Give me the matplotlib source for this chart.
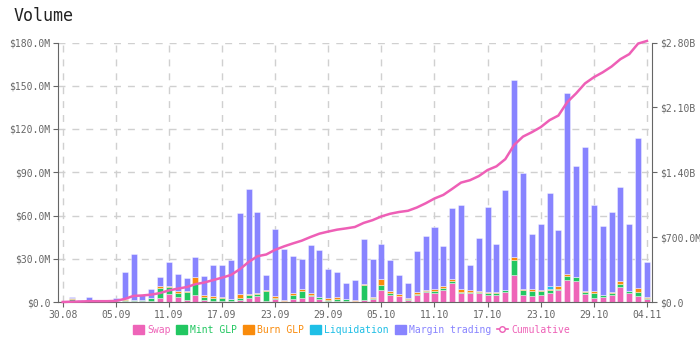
import numpy as np
import pandas as pd
import matplotlib
matplotlib.use("Agg")
import matplotlib.pyplot as plt
import matplotlib.transforms as mtransforms
from matplotlib.patches import Patch
from matplotlib.lines import Line2D

plt.rcParams['font.family'] = ['DejaVu Sans Mono']

# daily volumes in $M (30.08 .. 04.11)
dates = pd.date_range("2021-08-30", "2021-11-04", freq="D")
swap = [0, 0.3, 0.1, 0.1, 0, 0, 0.3, 0.5, 0.5, 0.5,
        1.0, 3.0, 5.8, 3.5, 1.5, 5.0, 1.5, 1.0, 1.0, 1.0,
        1.5, 3.0, 4.0, 0.7, 2.0, 0.5, 2.0, 2.8, 4.0, 2.3,
        1.0, 1.0, 0.8, 0.5, 1.6, 2.3, 8.5, 5.0, 4.0, 1.6,
        5.0, 6.7, 6.4, 8.5, 13.0, 6.4, 6.4, 6.0, 5.0, 5.0,
        7.0, 18.4, 4.6, 4.0, 4.6, 6.4, 8.0, 15.6, 14.5, 5.8,
        2.8, 3.5, 4.6, 10.4, 6.4, 4.0, 2.0]
mint_glp = [0, 1.8, 0.2, 0.2, 0, 0, 0.5, 1.0, 0.8, 1.0,
            1.5, 7.0, 4.6, 3.0, 5.7, 7.6, 2.3, 2.0, 1.5, 1.0,
            1.5, 1.6, 1.6, 7.0, 1.0, 0.5, 3.0, 5.0, 1.0, 1.0,
            0.5, 1.2, 1.0, 0.5, 10.4, 0.8, 3.0, 1.2, 0.3, 0.8,
            0.8, 0.8, 1.5, 1.5, 1.5, 0.5, 0.5, 1.0, 1.0, 1.0,
            1.0, 11.0, 4.0, 3.5, 3.0, 2.0, 1.0, 2.3, 2.8, 1.0,
            3.7, 1.2, 1.6, 2.3, 1.0, 3.2, 1.0]
burn_glp = [0, 1.0, 0.1, 0.1, 0, 0, 0.2, 0.3, 0.3, 0.2,
            0.3, 1.0, 1.0, 1.0, 0.5, 5.0, 1.0, 1.0, 1.0, 0.3,
            2.5, 1.2, 0.5, 0.8, 1.2, 0.5, 1.0, 1.4, 1.5, 0.5,
            1.2, 1.0, 0.3, 0.3, 0.5, 0.5, 4.6, 1.2, 1.2, 0.3,
            1.0, 0.5, 1.0, 1.0, 1.5, 2.0, 1.5, 0.3, 1.0, 1.0,
            0.3, 2.0, 0.3, 1.2, 1.0, 0.5, 2.3, 1.6, 0.3, 1.0,
            1.0, 0.3, 0.5, 1.6, 0.3, 2.3, 0.2]
liquidation = [0, 0, 0, 0, 0, 0, 0, 0, 0, 0,
               0, 0, 0, 0, 0, 0, 0, 0, 0, 0,
               0, 0, 0, 0, 0, 0, 0, 0, 0, 0,
               0, 0, 0, 0, 0, 0, 0, 0, 0, 0,
               0, 0, 0, 0, 0, 0, 0, 0, 0, 0,
               0, 0, 0, 0, 0, 2.3, 0, 0, 0, 0,
               0, 0, 0, 0, 0, 0, 0]
margin = [0, 0.6, 1.0, 3.3, 0, 0, 2.0, 19.2, 31.4, 3.1,
          6.0, 6.5, 16.5, 11.8, 9.1, 13.7, 13.4, 22.0, 22.5, 26.7,
          56.2, 72.6, 56.3, 10.5, 46.2, 35.3, 25.8, 20.5, 33.3, 32.5,
          20.1, 17.3, 11.3, 13.9, 31.5, 25.9, 24.4, 21.6, 13.5, 10.2,
          28.4, 37.5, 43.1, 27.7, 49.2, 58.6, 17.2, 37.1, 58.9, 32.9,
          69.1, 122.6, 80.5, 38.8, 45.8, 64.3, 38.5, 125.5, 76.4, 99.5,
          59.5, 47.7, 55.7, 65.4, 46.7, 104.5, 24.8]
# cumulative volume in $M (right axis)
cumulative = [0, 3.7, 5.1, 8.8, 8.8, 8.8, 11.8, 32.8, 65.8, 70.6,
              79.4, 96.9, 124.8, 144.1, 160.9, 192.2, 210.4, 236.4, 262.4, 291.4,
              353.1, 431.5, 493.9, 512.9, 563.3, 600.1, 631.9, 661.6, 701.4, 737.4,
              760.2, 780.7, 794.1, 809.3, 853.3, 882.8, 923.3, 952.3, 971.3, 984.2,
              1019.4, 1064.9, 1116.9, 1155.6, 1220.8, 1288.3, 1313.9, 1358.3, 1424.2, 1464.1,
              1541.5, 1695.5, 1784.9, 1832.4, 1886.8, 1962.3, 2012.1, 2157.1, 2251.1, 2358.4,
              2425.4, 2478.1, 2540.5, 2620.2, 2674.6, 2788.6, 2816.6]

series = [("Swap", swap, "#ee64b8"),
          ("Mint GLP", mint_glp, "#22c761"),
          ("Burn GLP", burn_glp, "#f98b0c"),
          ("Liquidation", liquidation, "#1fbfe6"),
          ("Margin trading", margin, "#8884ff")]
line_color = "#ee5fb6"
grey = "#666666"

fig = plt.figure(figsize=(7, 3.39), dpi=100)
ax = fig.add_axes([58 / 700, 1 - 302 / 339, 594 / 700, 259.5 / 339])
x = np.arange(len(dates))

bottom = np.zeros(len(dates))
for name, vals, col in series:
    v = np.array(vals) * 1e6
    ax.bar(x, v, width=0.68, bottom=bottom, color=col,
           edgecolor=(1, 1, 1, 0.45), linewidth=0.6, zorder=2)
    bottom += v

ax.set_xlim(-0.53, 66.57)
ax.set_ylim(0, 180e6)
ax.set_axisbelow(True)


def money(v, pos=None):
    if v == 0:
        return "$0.0"
    if v >= 1e9:
        return f"${v / 1e9:.2f}B"
    return f"${v / 1e6:.1f}M"


ax.set_yticks(np.arange(0, 181e6, 30e6))
ax.yaxis.set_major_formatter(plt.FuncFormatter(money))
tick_idx = list(range(0, 61, 6)) + [66]
ax.set_xticks(tick_idx)
ax.set_xticklabels([dates[i].strftime("%d.%m") for i in tick_idx])
lab = ax.get_xticklabels()[-1]
lab.set_transform(lab.get_transform() + mtransforms.ScaledTranslation(-5 / 100, 0, fig.dpi_scale_trans))

ax.grid(True, color="#d0d0d0", linestyle=(0, (5, 5)), linewidth=1)
for s in ["top", "right"]:
    ax.spines[s].set_visible(False)
for s in ["left", "bottom"]:
    ax.spines[s].set_color(grey)
ax.tick_params(colors=grey, labelsize=7, length=3.5, pad=2, labelcolor=grey)

ax2 = ax.twinx()
ax2.plot(x, np.array(cumulative) * 1e6, color=line_color, linewidth=1.8,
         zorder=3, clip_on=False)
ax2.set_ylim(0, 2.8e9)
ax2.set_yticks(np.arange(0, 2.81e9, 0.7e9))
ax2.yaxis.set_major_formatter(plt.FuncFormatter(money))
for s in ["top", "left", "bottom"]:
    ax2.spines[s].set_visible(False)
ax2.spines["right"].set_color(grey)
ax2.tick_params(colors=grey, labelsize=7, length=3.5, pad=2, labelcolor=grey)

fig.text(14 / 700, 1 - 16 / 339, "Volume", fontsize=12, va="center", color="#222222")

handles = [Patch(facecolor=c, edgecolor=c) for _, _, c in series]
handles.append(Line2D([0], [0], color=line_color, marker="o", markersize=4,
                      markerfacecolor="white", linewidth=1.2))
labels = [n for n, _, _ in series] + ["Cumulative"]
leg = fig.legend(handles, labels, loc="center", bbox_to_anchor=(0.502, 1 - 330 / 339),
                 ncol=6, frameon=False, fontsize=7, handlelength=1.1, handleheight=1.1,
                 handletextpad=0.35, columnspacing=0.6)
for t, c in zip(leg.get_texts(), [c for _, _, c in series] + [line_color]):
    t.set_color(c)

fig.savefig("out.png", dpi=100)
